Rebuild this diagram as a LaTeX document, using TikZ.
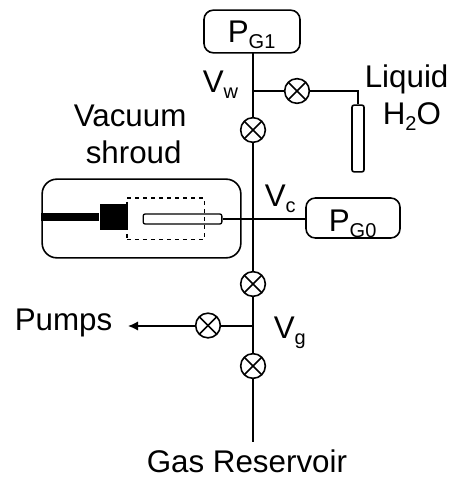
\documentclass[tikz,border=0pt]{standalone}
\usepackage{fontspec}
\setmainfont{Liberation Sans}
\usetikzlibrary{arrows.meta}
\newcommand{\lowsub}[1]{{\fontsize{15}{15}\selectfont\raisebox{-4.5pt}{#1}}}
\tikzset{
    valve/.style={circle,draw,fill=white,minimum size=18.5pt,inner sep=0pt,
        path picture={
            \draw (path picture bounding box.north west) -- (path picture bounding box.south east);
            \draw (path picture bounding box.north east) -- (path picture bounding box.south west);
        }},
    gauge/.style={draw,rounded corners=7pt,inner sep=0pt},
    lbl/.style={font=\fontsize{23.5}{28}\selectfont,inner sep=0pt,anchor=base west}
}
\begin{document}
\begin{tikzpicture}[x=0.75pt,y=-0.75pt,line width=1.2pt]
    \useasboundingbox (0,0) rectangle (451,477);
    % gauges
    \node[gauge,minimum width=72pt,minimum height=32pt] (pg1) at (252,31.5) {};
    \node[gauge,minimum width=70.5pt,minimum height=30pt] (pg0) at (353,218) {};
    \node[lbl] (pg1 text) at (227,43) {P\lowsub{G1}};
    \node[lbl] (pg0 text) at (328,231) {P\lowsub{G0}};
    % main line
    \coordinate (main top) at (253,53);
    \coordinate (main bot) at (253,442);
    \coordinate (jw) at (253,91);
    \coordinate (jg) at (253,326);
    \draw (main top) -- (main bot);
    % water side
    \node[draw,rounded corners=1.5pt,minimum width=9pt,minimum height=50pt,inner sep=0pt] (tube) at (358,138.5) {};
    \coordinate (wbend) at (tube.north |- jw);
    \draw (jw) -- (wbend) -- (tube.north);
    % shroud
    \node[draw,rounded corners=11pt,minimum width=149pt,minimum height=59pt,inner sep=0pt] (shroud) at (141.5,218.5) {};
    \coordinate (rod) at (shroud.west);
    \node[fill=black,minimum width=21pt,minimum height=19.5pt,inner sep=0pt] (block) at (114,217) {};
    \draw[line width=6pt] (rod |- block) -- (block.west);
    \node[draw,dashed,line width=1pt,minimum width=58pt,minimum height=31pt,inner sep=0pt] (dash) at (165.5,218.5) {};
    \node[draw,line width=1pt,rounded corners=1.5pt,minimum width=59pt,minimum height=7.5pt,inner sep=0pt] (sample) at (182.5,219) {};
    \draw (sample.east) -- (sample.east -| pg0.west);
    % pump side
    \node[lbl] (pumps) at (14,330) {Pumps};
    \coordinate (ptip) at (128,326);
    \draw[-{Latex[length=7.5pt,width=7pt]}] (jg) -- (ptip);
    % valves
    \node[valve] (v1) at (297,91) {};
    \node[valve] (v2) at (253,130) {};
    \node[valve] (v3) at (253,284) {};
    \node[valve] (v4) at (208,325.5) {};
    \node[valve] (v5) at (253,366) {};
    % labels
    \node[lbl] (vw) at (202,93) {V\lowsub{w}};
    \node[lbl] (vc) at (264,206) {V\lowsub{c}};
    \node[lbl] (vg) at (273,338) {V\lowsub{g}};
    \node[lbl] (liquid) at (364,88) {Liquid};
    \node[lbl] (water) at (382,125) {H\lowsub{2}O};
    \node[lbl] (vac) at (73,127) {Vacuum};
    \node[lbl] (shr) at (85,164) {shroud};
    \node[lbl] (gas) at (146,472) {Gas Reservoir};
\end{tikzpicture}
\end{document}
